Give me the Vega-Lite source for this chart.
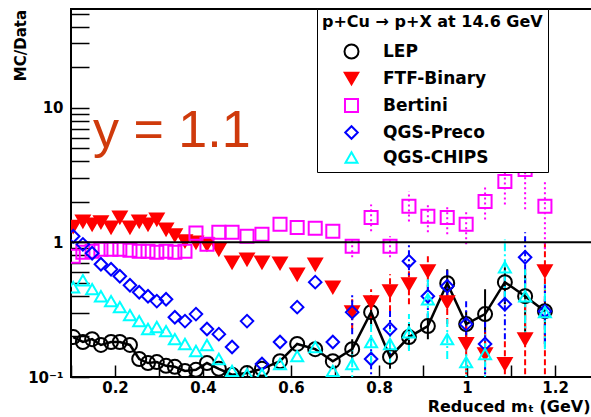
{
  "$schema": "https://vega.github.io/schema/vega-lite/v6.json",
  "width": 521,
  "height": 368,
  "autosize": {"type": "none"},
  "padding": {"left": 71, "top": 9, "right": 0, "bottom": 40},
  "background": "white",
  "config": {"view": {"stroke": "black", "strokeWidth": 2}, "font": "DejaVu Sans"},
  "datasets": {
    "pts": [
      {"m":"LEP","x":0.105,"y":0.198},{"m":"LEP","x":0.127,"y":0.182},{"m":"LEP","x":0.148,"y":0.191},{"m":"LEP","x":0.168,"y":0.173},{"m":"LEP","x":0.191,"y":0.182},{"m":"LEP","x":0.211,"y":0.182},{"m":"LEP","x":0.234,"y":0.173},{"m":"LEP","x":0.255,"y":0.136},{"m":"LEP","x":0.275,"y":0.127},{"m":"LEP","x":0.295,"y":0.129},{"m":"LEP","x":0.316,"y":0.121},{"m":"LEP","x":0.336,"y":0.119},{"m":"LEP","x":0.359,"y":0.111},{"m":"LEP","x":0.384,"y":0.113},{"m":"LEP","x":0.409,"y":0.127},{"m":"LEP","x":0.436,"y":0.115},{"m":"LEP","x":0.466,"y":0.104},{"m":"LEP","x":0.5,"y":0.107},{"m":"LEP","x":0.534,"y":0.115},{"m":"LEP","x":0.575,"y":0.131},{"m":"LEP","x":0.614,"y":0.176},{"m":"LEP","x":0.655,"y":0.161},{"m":"LEP","x":0.695,"y":0.131},
      {"m":"LEP","x":0.739,"y":0.161,"lo":0.136,"hi":0.191},{"m":"LEP","x":0.782,"y":0.303,"lo":0.239,"hi":0.378},{"m":"LEP","x":0.825,"y":0.141,"lo":0.115,"hi":0.176},{"m":"LEP","x":0.868,"y":0.198,"lo":0.161,"hi":0.247},{"m":"LEP","x":0.911,"y":0.239,"lo":0.191,"hi":0.293},{"m":"LEP","x":0.955,"y":0.497,"lo":0.391,"hi":0.631},{"m":"LEP","x":0.998,"y":0.247,"lo":0.176,"hi":0.308},{"m":"LEP","x":1.041,"y":0.293,"lo":0.176,"hi":0.449},{"m":"LEP","x":1.086,"y":0.506,"lo":0.347,"hi":0.653},{"m":"LEP","x":1.132,"y":0.398,"lo":0.176,"hi":0.631},{"m":"LEP","x":1.177,"y":0.308,"lo":0.176,"hi":0.378},
      {"m":"FTF-Binary","x":0.105,"y":1.31},{"m":"FTF-Binary","x":0.127,"y":1.43},{"m":"FTF-Binary","x":0.148,"y":1.36},{"m":"FTF-Binary","x":0.168,"y":1.41},{"m":"FTF-Binary","x":0.191,"y":1.29},{"m":"FTF-Binary","x":0.211,"y":1.53},{"m":"FTF-Binary","x":0.234,"y":1.29},{"m":"FTF-Binary","x":0.255,"y":1.43},{"m":"FTF-Binary","x":0.275,"y":1.36},{"m":"FTF-Binary","x":0.295,"y":1.48},{"m":"FTF-Binary","x":0.316,"y":1.25},{"m":"FTF-Binary","x":0.336,"y":1.13},{"m":"FTF-Binary","x":0.359,"y":1.02},{"m":"FTF-Binary","x":0.384,"y":1.0},{"m":"FTF-Binary","x":0.409,"y":0.966},{"m":"FTF-Binary","x":0.436,"y":0.888},{"m":"FTF-Binary","x":0.466,"y":0.711},{"m":"FTF-Binary","x":0.5,"y":0.748},{"m":"FTF-Binary","x":0.534,"y":0.711},{"m":"FTF-Binary","x":0.575,"y":0.699},{"m":"FTF-Binary","x":0.614,"y":0.579},{"m":"FTF-Binary","x":0.655,"y":0.687},{"m":"FTF-Binary","x":0.695,"y":0.464},
      {"m":"FTF-Binary","x":0.739,"y":0.303,"lo":0.227,"hi":0.378},{"m":"FTF-Binary","x":0.782,"y":0.36,"lo":0.269,"hi":0.449},{"m":"FTF-Binary","x":0.825,"y":0.434,"lo":0.308,"hi":0.579},{"m":"FTF-Binary","x":0.868,"y":0.489,"lo":0.347,"hi":0.687},{"m":"FTF-Binary","x":0.911,"y":0.61,"lo":0.449,"hi":0.815},{"m":"FTF-Binary","x":0.955,"y":0.36,"lo":0.247,"hi":0.489},{"m":"FTF-Binary","x":0.998,"y":0.176,"lo":0.09,"hi":0.269},{"m":"FTF-Binary","x":1.041,"y":0.148,"lo":0.09,"hi":0.227},{"m":"FTF-Binary","x":1.086,"y":0.125,"lo":0.09,"hi":0.191},{"m":"FTF-Binary","x":1.132,"y":0.191,"lo":0.09,"hi":0.378},{"m":"FTF-Binary","x":1.177,"y":0.61,"lo":0.09,"hi":1.0},
      {"m":"Bertini","x":0.105,"y":0.788},{"m":"Bertini","x":0.127,"y":0.843},{"m":"Bertini","x":0.148,"y":0.858},{"m":"Bertini","x":0.168,"y":0.888},{"m":"Bertini","x":0.191,"y":0.888},{"m":"Bertini","x":0.211,"y":0.888},{"m":"Bertini","x":0.234,"y":0.872},{"m":"Bertini","x":0.255,"y":0.858},{"m":"Bertini","x":0.275,"y":0.858},{"m":"Bertini","x":0.295,"y":0.843},{"m":"Bertini","x":0.316,"y":0.858},{"m":"Bertini","x":0.336,"y":0.843},{"m":"Bertini","x":0.359,"y":0.858},{"m":"Bertini","x":0.384,"y":1.17},{"m":"Bertini","x":0.409,"y":0.966},{"m":"Bertini","x":0.436,"y":1.19},{"m":"Bertini","x":0.466,"y":1.19},{"m":"Bertini","x":0.5,"y":1.11},{"m":"Bertini","x":0.534,"y":1.15},{"m":"Bertini","x":0.575,"y":1.36},{"m":"Bertini","x":0.614,"y":1.29},{"m":"Bertini","x":0.655,"y":1.27},{"m":"Bertini","x":0.695,"y":1.21},
      {"m":"Bertini","x":0.739,"y":0.934,"lo":0.774,"hi":1.05},{"m":"Bertini","x":0.782,"y":1.53,"lo":1.21,"hi":1.91},{"m":"Bertini","x":0.825,"y":0.934,"lo":0.774,"hi":1.11},{"m":"Bertini","x":0.868,"y":1.85,"lo":1.43,"hi":2.39},{"m":"Bertini","x":0.911,"y":1.56,"lo":1.19,"hi":1.98},{"m":"Bertini","x":0.955,"y":1.53,"lo":1.15,"hi":1.91},{"m":"Bertini","x":0.998,"y":1.36,"lo":0.966,"hi":1.76},{"m":"Bertini","x":1.041,"y":2.01,"lo":1.48,"hi":2.69},{"m":"Bertini","x":1.086,"y":2.83,"lo":1.91,"hi":4.12},{"m":"Bertini","x":1.132,"y":3.47,"lo":1.76,"hi":5.79},{"m":"Bertini","x":1.177,"y":1.85,"lo":0.888,"hi":2.93},
      {"m":"QGS-Preco","x":0.105,"y":1.11},{"m":"QGS-Preco","x":0.127,"y":0.966},{"m":"QGS-Preco","x":0.148,"y":0.829},{"m":"QGS-Preco","x":0.168,"y":0.687},{"m":"QGS-Preco","x":0.191,"y":0.631},{"m":"QGS-Preco","x":0.211,"y":0.56},{"m":"QGS-Preco","x":0.234,"y":0.48},{"m":"QGS-Preco","x":0.255,"y":0.426},{"m":"QGS-Preco","x":0.275,"y":0.398},{"m":"QGS-Preco","x":0.295,"y":0.366},{"m":"QGS-Preco","x":0.316,"y":0.378},{"m":"QGS-Preco","x":0.336,"y":0.278},{"m":"QGS-Preco","x":0.359,"y":0.26},{"m":"QGS-Preco","x":0.384,"y":0.293},{"m":"QGS-Preco","x":0.409,"y":0.227},{"m":"QGS-Preco","x":0.436,"y":0.208},{"m":"QGS-Preco","x":0.466,"y":0.167},{"m":"QGS-Preco","x":0.5,"y":0.26},{"m":"QGS-Preco","x":0.534,"y":0.125},{"m":"QGS-Preco","x":0.575,"y":0.182},{"m":"QGS-Preco","x":0.614,"y":0.33},{"m":"QGS-Preco","x":0.655,"y":0.506},{"m":"QGS-Preco","x":0.695,"y":0.182},
      {"m":"QGS-Preco","x":0.739,"y":0.303,"lo":0.208,"hi":0.412},{"m":"QGS-Preco","x":0.782,"y":0.136,"lo":0.09,"hi":0.191},{"m":"QGS-Preco","x":0.825,"y":0.227,"lo":0.136,"hi":0.319},{"m":"QGS-Preco","x":0.868,"y":0.723,"lo":0.489,"hi":0.966},{"m":"QGS-Preco","x":0.911,"y":0.398,"lo":0.269,"hi":0.532},{"m":"QGS-Preco","x":0.955,"y":0.472,"lo":0.347,"hi":0.631},{"m":"QGS-Preco","x":0.998,"y":0.247,"lo":0.161,"hi":0.378},{"m":"QGS-Preco","x":1.041,"y":0.176,"lo":0.09,"hi":0.269},{"m":"QGS-Preco","x":1.086,"y":0.347,"lo":0.191,"hi":0.579},{"m":"QGS-Preco","x":1.132,"y":0.774,"lo":0.489,"hi":1.19},{"m":"QGS-Preco","x":1.177,"y":0.308,"lo":0.176,"hi":0.489},
      {"m":"QGS-CHIPS","x":0.105,"y":0.464},{"m":"QGS-CHIPS","x":0.127,"y":0.523},{"m":"QGS-CHIPS","x":0.148,"y":0.449},{"m":"QGS-CHIPS","x":0.168,"y":0.398},{"m":"QGS-CHIPS","x":0.191,"y":0.366},{"m":"QGS-CHIPS","x":0.211,"y":0.33},{"m":"QGS-CHIPS","x":0.234,"y":0.288},{"m":"QGS-CHIPS","x":0.255,"y":0.26},{"m":"QGS-CHIPS","x":0.275,"y":0.227},{"m":"QGS-CHIPS","x":0.295,"y":0.235},{"m":"QGS-CHIPS","x":0.316,"y":0.219},{"m":"QGS-CHIPS","x":0.336,"y":0.191},{"m":"QGS-CHIPS","x":0.359,"y":0.176},{"m":"QGS-CHIPS","x":0.384,"y":0.156},{"m":"QGS-CHIPS","x":0.409,"y":0.173},{"m":"QGS-CHIPS","x":0.436,"y":0.136},{"m":"QGS-CHIPS","x":0.466,"y":0.111},{"m":"QGS-CHIPS","x":0.5,"y":0.105},{"m":"QGS-CHIPS","x":0.534,"y":0.105},{"m":"QGS-CHIPS","x":0.575,"y":0.125},{"m":"QGS-CHIPS","x":0.614,"y":0.143},{"m":"QGS-CHIPS","x":0.655,"y":0.167},{"m":"QGS-CHIPS","x":0.695,"y":0.111},
      {"m":"QGS-CHIPS","x":0.739,"y":0.125,"lo":0.09,"hi":0.161},{"m":"QGS-CHIPS","x":0.782,"y":0.182,"lo":0.125,"hi":0.247},{"m":"QGS-CHIPS","x":0.825,"y":0.176,"lo":0.125,"hi":0.227},{"m":"QGS-CHIPS","x":0.868,"y":0.215,"lo":0.156,"hi":0.293},{"m":"QGS-CHIPS","x":0.911,"y":0.378,"lo":0.269,"hi":0.532},{"m":"QGS-CHIPS","x":0.955,"y":0.191,"lo":0.136,"hi":0.269},{"m":"QGS-CHIPS","x":0.998,"y":0.129,"lo":0.09,"hi":0.176},{"m":"QGS-CHIPS","x":1.041,"y":0.148,"lo":0.09,"hi":0.208},{"m":"QGS-CHIPS","x":1.086,"y":0.653,"lo":0.378,"hi":1.05},{"m":"QGS-CHIPS","x":1.132,"y":0.398,"lo":0.191,"hi":0.631},{"m":"QGS-CHIPS","x":1.177,"y":0.303,"lo":0.161,"hi":0.489}
    ]
  },
  "layer": [
    {
      "data": {"name": "pts"},
      "transform": [{"filter": "isValid(datum.lo)"}],
      "mark": {"type": "rule", "strokeWidth": 2, "clip": true},
      "encoding": {
        "x": {"field": "x", "type": "quantitative", "scale": {"domain": [0.1, 1.284], "nice": false, "zero": false}},
        "y": {"field": "lo", "type": "quantitative", "scale": {"type": "log", "domain": [0.1, 54], "nice": false}},
        "y2": {"field": "hi"},
        "stroke": {"field": "m", "type": "nominal", "scale": {"domain": ["LEP", "FTF-Binary", "Bertini", "QGS-Preco", "QGS-CHIPS"], "range": ["#000000", "#ff0000", "#ff00ff", "#0000ff", "#00ffff"]}},
        "strokeDash": {"field": "m", "type": "nominal", "scale": {"domain": ["FTF-Binary", "LEP", "Bertini", "QGS-Preco", "QGS-CHIPS"], "range": [[6, 3], [1, 0], [2, 3], [6, 3, 2, 3], [8, 3, 2, 3]]}, "legend": null}
      }
    },
    {
      "data": {"name": "pts"},
      "transform": [{"filter": "datum.m === 'LEP'"}],
      "mark": {"type": "line", "stroke": "black", "strokeWidth": 2.5, "clip": true},
      "encoding": {
        "x": {"field": "x", "type": "quantitative", "scale": {"domain": [0.1, 1.284], "nice": false, "zero": false}},
        "y": {"field": "y", "type": "quantitative", "scale": {"type": "log", "domain": [0.1, 54], "nice": false}}
      }
    },
    {
      "data": {"name": "pts"},
      "mark": {"type": "point", "filled": true, "strokeWidth": 2, "opacity": 1, "clip": true},
      "encoding": {
        "x": {
          "field": "x", "type": "quantitative",
          "scale": {"domain": [0.1, 1.284], "nice": false, "zero": false},
          "axis": {
            "values": [0.1, 0.15, 0.2, 0.25, 0.3, 0.35, 0.4, 0.45, 0.5, 0.55, 0.6, 0.65, 0.7, 0.75, 0.8, 0.85, 0.9, 0.95, 1, 1.05, 1.1, 1.15, 1.2, 1.25],
            "title": "Reduced mₜ (GeV)",
            "titleFont": "DejaVu Sans", "titleFontSize": 16, "titleFontWeight": "bold", "titleColor": "black",
            "titleAlign": "right", "titleAnchor": "end", "titleX": 519, "titleY": 34, "titleBaseline": "alphabetic",
            "domain": false, "grid": false, "tickSize": -12, "tickColor": "black", "tickWidth": 1.5,
            "labelFont": "DejaVu Sans", "labelFontSize": 15, "labelFontWeight": "bold", "labelColor": "black",
            "labelPadding": 15, "labelOverlap": false, "labelFlush": false,
            "labelExpr": "abs(datum.value*5 - round(datum.value*5)) < 0.01 && datum.value > 0.15 ? format(datum.value, '.1~f') : ''",
            "encode": {"ticks": {"y2": {"value": {"expr": "abs(datum.value*5 - round(datum.value*5)) < 0.01 ? -12 : -6"}}}}
          }
        },
        "y": {
          "field": "y", "type": "quantitative",
          "scale": {"type": "log", "domain": [0.1, 54], "nice": false},
          "axis": {
            "values": [0.1, 0.2, 0.3, 0.4, 0.5, 0.6, 0.7, 0.8, 0.9, 1, 2, 3, 4, 5, 6, 7, 8, 9, 10, 20, 30, 40, 50],
            "title": "MC/Data",
            "titleFont": "DejaVu Sans", "titleFontSize": 15, "titleFontWeight": "bold", "titleColor": "black",
            "titleAngle": 270, "titleAlign": "center", "titleBaseline": "middle", "titleX": -51, "titleY": 36,
            "domain": false, "grid": false, "tickSize": -18, "tickColor": "black", "tickWidth": 1.5,
            "labelFont": "DejaVu Sans", "labelFontSize": 15, "labelFontWeight": "bold", "labelColor": "black",
            "labelPadding": 26, "labelOverlap": false, "labelFlush": false,
            "labelExpr": "datum.value === 10 ? '10' : datum.value === 1 ? '1' : datum.value === 0.1 ? '10⁻¹' : ''",
            "encode": {"ticks": {"x2": {"value": {"expr": "abs(log(datum.value)/LN10 - round(log(datum.value)/LN10)) < 0.01 ? 18 : 10"}}}}
          }
        },
        "stroke": {
          "field": "m", "type": "nominal",
          "scale": {"domain": ["LEP", "FTF-Binary", "Bertini", "QGS-Preco", "QGS-CHIPS"], "range": ["#000000", "#ff0000", "#ff00ff", "#0000ff", "#00ffff"]},
          "legend": {
            "orient": "none", "legendX": 246, "legendY": 0,
            "title": "p+Cu → p+X at 14.6 GeV\u00a0\u00a0\u00a0\u00a0\u00a0\u00a0\u00a0\u00a0\u00a0\u00a0\u00a0\u00a0\u00a0\u00a0",
            "titleFont": "DejaVu Sans", "titleFontSize": 16, "titleFontWeight": "bold", "titleColor": "black", "titleLimit": 600, "titlePadding": 13,
            "labelFont": "DejaVu Sans", "labelFontSize": 17, "labelFontWeight": "bold", "labelColor": "black", "labelLimit": 300,
            "labelOffset": 23, "symbolOffset": 21, "symbolSize": 196, "symbolStrokeWidth": 2,
            "rowPadding": 5, "padding": 5, "strokeColor": "black", "fillColor": "white",
            "encode": {
              "legend": {"strokeWidth": {"value": 2}},
              "symbols": {
                "strokeDash": {"value": [1, 0]},
                "opacity": {"value": 1},
                "strokeWidth": {"value": 2}
              }
            }
          }
        },
        "fill": {"field": "m", "type": "nominal", "scale": {"domain": ["LEP", "FTF-Binary", "Bertini", "QGS-Preco", "QGS-CHIPS"], "range": ["transparent", "#ff0000", "transparent", "transparent", "transparent"]}, "legend": null},
        "shape": {"field": "m", "type": "nominal", "scale": {"domain": ["LEP", "FTF-Binary", "Bertini", "QGS-Preco", "QGS-CHIPS"], "range": ["circle", "triangle-down", "square", "diamond", "triangle-up"]}, "legend": null},
        "size": {"field": "m", "type": "ordinal", "scale": {"domain": ["LEP", "FTF-Binary", "Bertini", "QGS-Preco", "QGS-CHIPS"], "range": [196, 144, 256, 196, 196]}, "legend": null}
      }
    },
    {
      "data": {"values": [{}]},
      "mark": {"type": "rule", "stroke": "black", "strokeWidth": 2},
      "encoding": {
        "y": {"datum": 1, "type": "quantitative", "scale": {"type": "log", "domain": [0.1, 54], "nice": false}}
      }
    },
    {
      "data": {"values": [{"label": "y = 1.1", "x": 0.15, "y": 5.14}]},
      "mark": {"type": "text", "font": "Liberation Sans", "fontSize": 52, "fill": "#cf3a0c", "align": "left", "baseline": "alphabetic"},
      "encoding": {
        "x": {"field": "x", "type": "quantitative", "scale": {"domain": [0.1, 1.284], "nice": false, "zero": false}},
        "y": {"field": "y", "type": "quantitative", "scale": {"type": "log", "domain": [0.1, 54], "nice": false}},
        "text": {"field": "label"}
      }
    }
  ]
}
